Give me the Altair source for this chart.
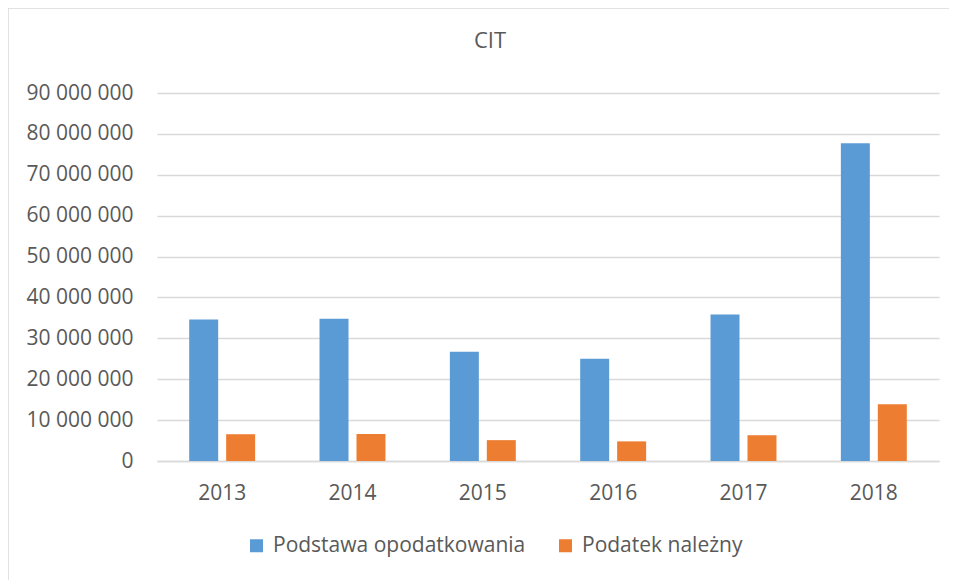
import altair as alt
import pandas as pd

years = ["2013", "2014", "2015", "2016", "2017", "2018"]
podstawa = [34600000, 34800000, 26700000, 25000000, 35800000, 77700000]
podatek = [6550000, 6600000, 5100000, 4800000, 6300000, 13900000]
series = ["Podstawa opodatkowania", "Podatek należny"]
colors = ["#5B9BD5", "#ED7D31"]
y_ticks = [0, 10000000, 20000000, 30000000, 40000000, 50000000, 60000000, 70000000, 80000000, 90000000]

rows = []
for i, yr in enumerate(years):
    rows.append({"rok": yr, "seria": series[0], "wartosc": podstawa[i]})
    rows.append({"rok": yr, "seria": series[1], "wartosc": podatek[i]})
df = pd.DataFrame(rows)

FONT = "Open Sans"
GREY = "#595959"

bars = alt.Chart(df).mark_bar().encode(
    x=alt.X("rok:N", sort=years, title=None,
            scale=alt.Scale(paddingInner=0.494, paddingOuter=0.247),
            axis=alt.Axis(labelAngle=0, labelPadding=21, ticks=False,
                          domainColor="#d9d9d9", domainWidth=1.5)),
    xOffset=alt.XOffset("seria:N", sort=series,
                        scale=alt.Scale(paddingInner=0.216, paddingOuter=0)),
    y=alt.Y("wartosc:Q", title=None,
            scale=alt.Scale(domain=[0, 90000000], nice=False),
            axis=alt.Axis(values=y_ticks, domain=False, ticks=False, labelPadding=24,
                          labelExpr="replace(format(datum.value, ','), regexp(',', 'g'), ' ')",
                          gridColor="#d9d9d9", gridWidth=1.5)),
    color=alt.Color("seria:N", sort=series,
                    scale=alt.Scale(domain=series, range=colors),
                    legend=alt.Legend(title=None, orient="none", direction="horizontal",
                                      legendX=89, legendY=442,
                                      symbolType="square", symbolSize=169,
                                      symbolStrokeWidth=0, labelLimit=500,
                                      labelFontSize=21, labelColor=GREY, labelFont=FONT,
                                      labelOffset=6, columnPadding=29)),
)

frame = alt.Chart(pd.DataFrame({"a": [0]})).mark_rect(
    fill=None, stroke="#d9d9d9", strokeWidth=1.5, clip=False
).encode(
    x=alt.value(-149), x2=alt.value(830), y=alt.value(-85), y2=alt.value(520)
)

chart = alt.layer(frame, bars).properties(
    width=782, height=368,
    title=alt.TitleParams("CIT", fontSize=22, font=FONT, fontWeight="normal",
                          color=GREY, anchor="middle", dx=-58, offset=-46),
    autosize=alt.AutoSizeParams(type="none"),
    padding={"left": 149, "top": 85, "right": 10, "bottom": 119},
).configure_view(stroke=None).configure_axis(
    labelFont=FONT, labelFontSize=21, labelColor=GREY, grid=True
).configure_axisX(grid=False)

chart.save("out.html", embed_options={"renderer": "svg", "actions": False})
